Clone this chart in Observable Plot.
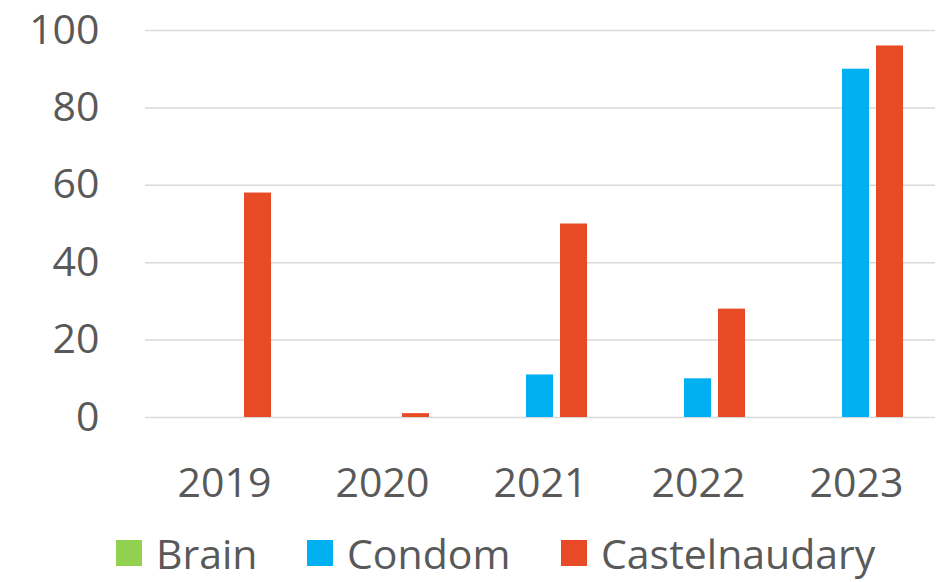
<!DOCTYPE html>
<html>
<head>
<meta charset="utf-8">
<script src="https://cdn.jsdelivr.net/npm/d3@7"></script>
<script src="https://cdn.jsdelivr.net/npm/@observablehq/plot@0.6"></script>
<style>
  body { margin: 0; background: #fff; font-family: "Open Sans", sans-serif; }
  #legend { position: relative; height: 62px; }
  .item { position: absolute; top: 4px; display: flex; align-items: center; font-size: 41px; color: #595959; height: 58px; }
  .sw { width: 26px; height: 26px; margin-right: 14px; }
</style>
</head>
<body>
<div id="chart"></div>
<div id="legend"></div>
<script>
const years = ["2019", "2020", "2021", "2022", "2023"];
const series = ["Brain", "Condom", "Castelnaudary"];
const brain = [0, 0, 0, 0, 0];
const condom = [0, 0, 11, 10, 90];
const castelnaudary = [58, 1, 50, 28, 96];
const colors = ["#92d050", "#00b0f0", "#e84a25"];
const yTicks = [0, 20, 40, 60, 80, 100];

const data = [];
[brain, condom, castelnaudary].forEach((vals, si) => {
  vals.forEach((v, yi) => data.push({ year: years[yi], series: series[si], value: v }));
});

const chart = Plot.plot({
  width: 946,
  height: 520,
  marginLeft: 143,
  marginRight: 9,
  marginTop: 30,
  marginBottom: 103,
  style: { fontFamily: "Open Sans, sans-serif", fontSize: "41px", color: "#595959", background: "#fff" },
  fx: { domain: years, padding: 0, label: null },
  x: { domain: series, paddingInner: 0.2, paddingOuter: 0.87, axis: null },
  y: { domain: [0, 100], ticks: yTicks, label: null },
  color: { domain: series, range: colors },
  marks: [
    Plot.ruleY(yTicks, { stroke: "#d9d9d9", strokeWidth: 1.5 }),
    Plot.axisY(yTicks, { tickSize: 0, tickPadding: 46, fontSize: 41, fill: "#595959", label: null }),
    Plot.axisFx({ anchor: "bottom", tickSize: 0, tickPadding: 50, fontSize: 41, fill: "#595959", label: null }),
    Plot.barY(data, { fx: "year", x: "series", y: "value", fill: "series" })
  ]
});
document.getElementById("chart").appendChild(chart);

const legend = document.getElementById("legend");
const lefts = [116, 307, 561];
series.forEach((s, i) => {
  const it = document.createElement("div");
  it.className = "item";
  it.style.left = lefts[i] + "px";
  const sw = document.createElement("div");
  sw.className = "sw";
  sw.style.background = colors[i];
  it.appendChild(sw);
  it.appendChild(document.createTextNode(s));
  legend.appendChild(it);
});
</script>
</body>
</html>
